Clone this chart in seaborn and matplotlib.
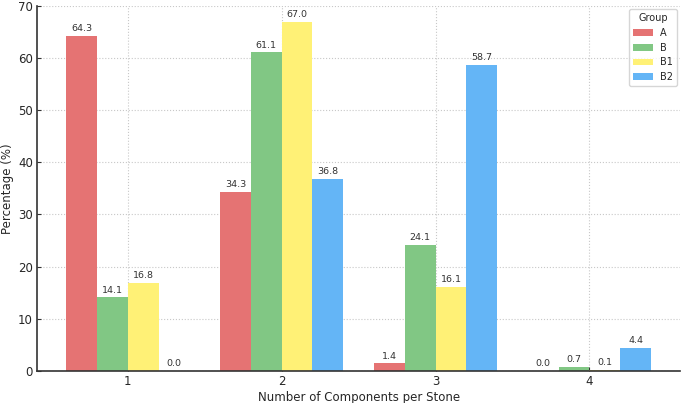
import pandas as pd
import matplotlib.pyplot as plt
import seaborn as sns

# Data
components = ["1", "2", "3", "4"]
groups = ["A", "B", "B1", "B2"]
pct_A = [64.3, 34.3, 1.4, 0.0]
pct_B = [14.1, 61.1, 24.1, 0.7]
pct_B1 = [16.8, 67.0, 16.1, 0.1]
pct_B2 = [0.0, 36.8, 58.7, 4.4]
colors = ["#e57373", "#81c784", "#fff176", "#64b5f6"]

df = pd.DataFrame({
    "Components": components * 4,
    "Group": [g for g in groups for _ in components],
    "Percentage": pct_A + pct_B + pct_B1 + pct_B2,
})

sns.set_style("whitegrid", {"grid.linestyle": ":", "grid.color": "#c8c8c8",
                            "axes.edgecolor": "#333333"})
plt.rcParams["font.family"] = ["DejaVu Sans"]

fig, ax = plt.subplots(figsize=(6.85, 4.03), dpi=100)
sns.barplot(data=df, x="Components", y="Percentage", hue="Group",
            palette=colors, saturation=1, linewidth=0, ax=ax)

for c in ax.containers:
    ax.bar_label(c, fmt="%.1f", fontsize=6.8, color="#333333", padding=2)

ax.set_ylim(0, 70)
ax.set_xlim(-0.59, 3.59)
ax.set_xlabel("Number of Components per Stone", fontsize=8.5, labelpad=2)
ax.set_ylabel("Percentage (%)", fontsize=8.5, labelpad=3)
ax.tick_params(axis="both", labelsize=8.5, length=3, direction="in", pad=3,
               left=True, bottom=True, color="#333333")
ax.grid(True, linewidth=0.8)
sns.despine(ax=ax)
ax.spines["left"].set_linewidth(1.2)
ax.spines["bottom"].set_linewidth(1.2)
leg = ax.legend(title="Group", loc="upper right", fontsize=7, title_fontsize=7,
                borderaxespad=0.3)

plt.subplots_adjust(left=0.054, right=0.993, top=0.985, bottom=0.08)
plt.savefig("out.png", dpi=100)
